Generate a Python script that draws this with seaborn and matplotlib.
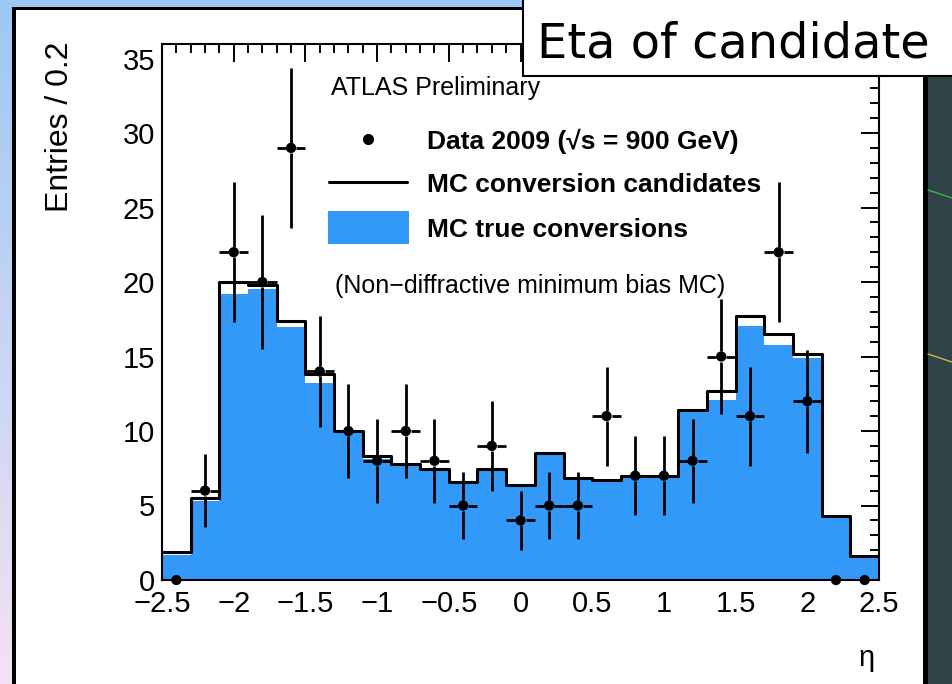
import numpy as np
import pandas as pd
import matplotlib
matplotlib.use("Agg")
import matplotlib.pyplot as plt
from matplotlib.patches import Rectangle
from matplotlib.lines import Line2D
from matplotlib.ticker import MultipleLocator
import seaborn as sns

# ---------------- data ----------------
bin_edges_lo = -2.5
bin_edges_hi = 2.5
n_bins = 25
bin_centers = [-2.4, -2.2, -2.0, -1.8, -1.6, -1.4, -1.2, -1.0, -0.8, -0.6, -0.4, -0.2, 0.0,
               0.2, 0.4, 0.6, 0.8, 1.0, 1.2, 1.4, 1.6, 1.8, 2.0, 2.2, 2.4]
mc_candidates = [1.9, 5.5, 20.0, 19.8, 17.4, 13.8, 10.0, 8.3, 7.8, 7.45, 6.55, 7.45, 6.4,
                 8.55, 6.85, 6.7, 7.0, 7.0, 11.4, 12.7, 17.7, 16.5, 15.2, 4.3, 1.6]
mc_true = [1.7, 5.3, 19.2, 19.5, 17.0, 13.2, 10.0, 8.15, 7.7, 7.3, 6.45, 7.3, 6.35,
           8.45, 6.7, 6.65, 6.95, 6.95, 11.25, 12.1, 17.05, 15.8, 14.9, 4.2, 1.55]
data_2009 = [0, 6, 22, 20, 29, 14, 10, 8, 10, 8, 5, 9, 4,
             5, 5, 11, 7, 7, 8, 15, 11, 22, 12, 0, 0]
x_ticks = [-2.5, -2, -1.5, -1, -0.5, 0, 0.5, 1, 1.5, 2, 2.5]
x_tick_labels = ["\u22122.5", "\u22122", "\u22121.5", "\u22121", "\u22120.5", "0",
                 "0.5", "1", "1.5", "2", "2.5"]
y_ticks = [0, 5, 10, 15, 20, 25, 30, 35]

df = pd.DataFrame({"eta": bin_centers, "cand": mc_candidates, "true": mc_true,
                   "data": data_2009})

BLUE = "#3399f8"
W, H = 952, 684

sns.set_style("white")
plt.rcParams["font.family"] = ["Liberation Sans", "DejaVu Sans"]
plt.rcParams["text.color"] = "black"
plt.rcParams["axes.labelcolor"] = "black"
plt.rcParams["xtick.color"] = "black"
plt.rcParams["ytick.color"] = "black"

fig = plt.figure(figsize=(W / 100, H / 100), dpi=100)


def fx(px):
    return px / W


def fy(py):
    return 1 - py / H


# ---------------- slide background ----------------
bg = fig.add_axes([0, 0, 1, 1], zorder=-10)
grad = np.linspace(0, 1, 256)[:, None]
top_c = np.array(matplotlib.colors.to_rgb("#9cc8f4"))
bot_c = np.array(matplotlib.colors.to_rgb("#f4e2f2"))
img = top_c[None, None, :] * (1 - grad[:, :, None]) + bot_c[None, None, :] * grad[:, :, None]
bg.imshow(img, aspect="auto", extent=[0, 1, 0, 1])
bg.set_axis_off()

fig.add_artist(Rectangle((fx(14), fy(H + 5)), fx(923 - 14), fy(8) - fy(H + 5),
                         transform=fig.transFigure, facecolor="white", edgecolor="none", zorder=-5))
fig.add_artist(Rectangle((fx(12), fy(H + 5)), fx(4), fy(7) - fy(H + 5),
                         transform=fig.transFigure, facecolor="black", edgecolor="none", zorder=-4))
fig.add_artist(Rectangle((fx(12), fy(9.5)), fx(523 - 12), fy(7) - fy(9.5),
                         transform=fig.transFigure, facecolor="black", edgecolor="none", zorder=-4))
fig.add_artist(Rectangle((fx(923), fy(H + 5)), fx(5), fy(7) - fy(H + 5),
                         transform=fig.transFigure, facecolor="black", edgecolor="none", zorder=-4))
fig.add_artist(Rectangle((fx(928), fy(H + 5)), fx(30), fy(7) - fy(H + 5),
                         transform=fig.transFigure, facecolor="#2f4346", edgecolor="none", zorder=-4))
fig.add_artist(Line2D([fx(928), fx(952)], [fy(190), fy(198)], transform=fig.transFigure,
                      color="#3fae4a", lw=1.0, zorder=-3))
fig.add_artist(Line2D([fx(928), fx(952)], [fy(354), fy(362)], transform=fig.transFigure,
                      color="#d8b34a", lw=1.0, zorder=-3))

# ---------------- main plot ----------------
ax = fig.add_axes([fx(162), fy(580), fx(879) - fx(162), fy(43.6) - fy(580)], zorder=0)
ax.set_facecolor("white")
edges = np.linspace(bin_edges_lo, bin_edges_hi, n_bins + 1).tolist()

sns.histplot(data=df, x="eta", weights="true", bins=edges, element="step", fill=True,
             color=BLUE, alpha=1.0, linewidth=0, ax=ax, zorder=2)
sns.histplot(data=df, x="eta", weights="cand", bins=edges, element="step", fill=False,
             color="black", linewidth=2.2, ax=ax, zorder=3)

# data error bars (with small gaps around the markers)
xc = df["eta"].to_numpy()
yd = df["data"].to_numpy(dtype=float)
err = np.sqrt(yd)
half_w = (edges[1] - edges[0]) / 2
gx, gy = 0.035, 0.34
nz = yd > 0
ax.vlines(xc[nz], (yd - err)[nz], (yd - gy)[nz], color="black", lw=2.0, zorder=4)
ax.vlines(xc[nz], (yd + gy)[nz], (yd + err)[nz], color="black", lw=2.0, zorder=4)
ax.hlines(yd[nz], (xc - half_w)[nz], (xc - gx)[nz], color="black", lw=2.0, zorder=4)
ax.hlines(yd[nz], (xc + gx)[nz], (xc + half_w)[nz], color="black", lw=2.0, zorder=4)
sns.scatterplot(data=df, x="eta", y="data", color="black", s=55, edgecolor="none",
                ax=ax, zorder=5, clip_on=False)

ax.set_xlim(-2.5, 2.5)
ax.set_ylim(0, 36)
ax.set_xticks(x_ticks)
ax.set_xticklabels(x_tick_labels)
ax.set_yticks(y_ticks)
ax.xaxis.set_minor_locator(MultipleLocator(0.1))
ax.yaxis.set_minor_locator(MultipleLocator(1))
ax.tick_params(which="both", direction="in", top=True, right=True, width=1.4, color="black")
ax.tick_params(which="major", length=13, labelsize=21, labelcolor="black")
ax.tick_params(axis="x", which="major", pad=7)
ax.tick_params(axis="y", which="major", pad=5)
ax.tick_params(which="minor", length=6.5)
for s in ax.spines.values():
    s.set_visible(True)
    s.set_linewidth(1.5)
    s.set_color("black")
ax.set_ylabel("")
ax.set_xlabel("\u03b7", fontsize=21, loc="right", color="black")
ax.xaxis.set_label_coords(0.994, -0.12)

fig.text(fx(60), fy(42), "Entries / 0.2", rotation=90, ha="center", va="top", fontsize=23,
         color="black")

# ---------------- legend / annotations ----------------
fig.text(fx(331), fy(95), "ATLAS Preliminary", fontsize=18, va="baseline", ha="left")
fig.add_artist(Line2D([fx(368)], [fy(139)], transform=fig.transFigure, marker="o",
                      markersize=7, color="black", zorder=4))
fig.text(fx(427), fy(149), "Data 2009 (\u221as = 900 GeV)", fontsize=19,
         fontweight="bold", va="baseline", ha="left")
fig.add_artist(Line2D([fx(329), fx(407)], [fy(182), fy(182)], transform=fig.transFigure,
                      color="black", lw=2.2, zorder=4))
fig.text(fx(427), fy(192), "MC conversion candidates", fontsize=19,
         fontweight="bold", va="baseline", ha="left")
fig.add_artist(Rectangle((fx(328), fy(244)), fx(409 - 328), fy(211) - fy(244),
                         transform=fig.transFigure, facecolor=BLUE, edgecolor="none", zorder=4))
fig.text(fx(427), fy(237), "MC true conversions", fontsize=19,
         fontweight="bold", va="baseline", ha="left")
fig.text(fx(335), fy(293), "(Non\u2212diffractive minimum bias MC)", fontsize=18,
         va="baseline", ha="left")

# ---------------- slide title box ----------------
fig.add_artist(Rectangle((fx(523), fy(76)), fx(960 - 523), fy(-5) - fy(76),
                         transform=fig.transFigure, facecolor="white", edgecolor="black",
                         lw=1.5, zorder=6))
fig.text(fx(537), fy(57), "Eta of candidate", fontsize=34.5, family="DejaVu Sans",
         va="baseline", ha="left", zorder=7, color="black")

fig.savefig("out.png", dpi=100)
